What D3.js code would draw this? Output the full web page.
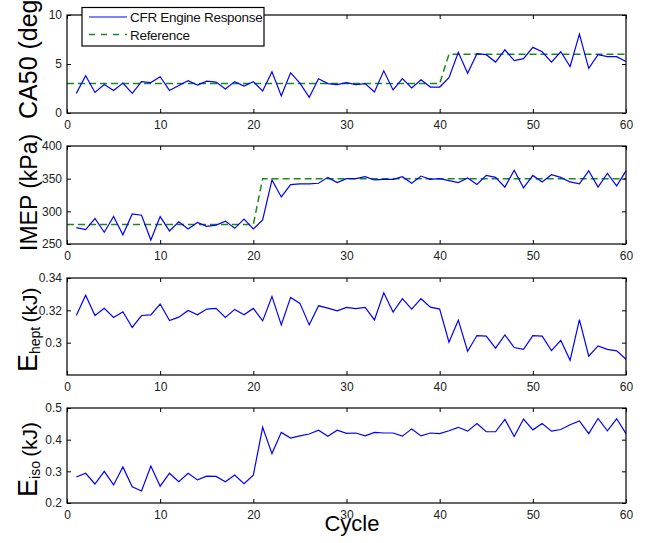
<!DOCTYPE html>
<html>
<head>
<meta charset="utf-8">
<script src="https://cdn.jsdelivr.net/npm/d3@7"></script>
<style>
  html, body { margin: 0; padding: 0; background: #fff; }
  svg { display: block; font-family: "Liberation Sans", Arial, Helvetica, sans-serif; }
</style>
</head>
<body>
<svg id="chart" width="652" height="543"></svg>
<script>
// Cycle-by-cycle engine data (cycles 1..60)
const cycles = d3.range(1, 61);

const ca50 = [2.0,3.8,2.1,2.9,2.3,3.05,2.0,3.2,3.1,3.7,
              2.3,2.8,3.3,2.85,3.25,3.15,2.45,3.2,2.75,3.2,
              2.25,4.2,1.75,4.1,3.05,1.6,3.5,3.0,2.9,3.1,
              2.9,3.0,2.15,4.3,2.35,3.5,2.55,3.4,2.65,2.65,
              3.6,6.2,4.05,6.05,5.95,5.2,6.45,5.35,5.55,6.7,
              6.25,5.2,6.25,4.75,8.05,4.55,5.95,5.75,5.75,5.25];

const imep = [275,272,289,268,292,264,296,294,256,292,
              270,284,273,283,277,279,285,274,288,273,
              287,348,322,341,342,342,343,352,344,350,
              350,353,348,349,349,353,343,354,349,350,
              347,344,351,341,355,352,337,363,336,355,
              345,356,352,345,342,362,337,358,339,362];

const eHept = [0.3168,0.3294,0.3168,0.3212,0.3156,0.3191,0.3094,0.3168,0.3172,0.3239,
               0.3137,0.3158,0.3199,0.3172,0.3208,0.3212,0.3156,0.3206,0.3172,0.3212,
               0.3135,0.3286,0.3110,0.3280,0.3243,0.3110,0.3228,0.3214,0.3197,0.3218,
               0.3210,0.3218,0.3141,0.3309,0.3189,0.3272,0.3208,0.3272,0.3220,0.3208,
               0.3003,0.3139,0.2947,0.3044,0.3040,0.2966,0.3048,0.2970,0.2959,0.3044,
               0.3040,0.2951,0.3015,0.2891,0.3143,0.2916,0.2980,0.2959,0.2949,0.2897];

const eIso = [0.282,0.294,0.260,0.300,0.257,0.314,0.251,0.238,0.317,0.253,
              0.294,0.267,0.294,0.273,0.285,0.284,0.267,0.288,0.261,0.288,
              0.439,0.356,0.423,0.405,0.412,0.418,0.430,0.411,0.430,0.420,
              0.421,0.412,0.423,0.421,0.421,0.411,0.434,0.412,0.421,0.419,
              0.428,0.439,0.427,0.451,0.425,0.425,0.464,0.410,0.465,0.431,
              0.451,0.427,0.432,0.447,0.459,0.419,0.467,0.428,0.466,0.419];

// Reference set-point breakpoints
const refCa50Cycles = [0, 40, 41, 60];
const refCa50Values = [3, 3, 6, 6];
const refImepCycles = [0, 20, 21, 60];
const refImepValues = [280, 280, 350, 350];

// Axis ticks
const xTicks = [0, 10, 20, 30, 40, 50, 60];
const ca50Ticks = [0, 5, 10];
const imepTicks = [250, 300, 350, 400];
const eHeptTicks = [0.30, 0.32, 0.34];
const eIsoTicks = [0.2, 0.3, 0.4, 0.5];

const legendLabels = ["CFR Engine Response", "Reference"];

const BLUE = "#0000ff";
const GREEN = "#1a8a1a";

const svg = d3.select("#chart");
svg.append("rect").attr("width", 652).attr("height", 543).attr("fill", "#fff");

const left = 67, right = 626;
const x = d3.scaleLinear().domain([0, 60]).range([left, right]);

function panel(cfg) {
  const y = d3.scaleLinear().domain(cfg.domain).range([cfg.bottom, cfg.top]);
  const g = svg.append("g");

  const line = d3.line().x(d => x(d[0])).y(d => y(d[1]));

  if (cfg.refX) {
    g.append("path")
      .datum(d3.zip(cfg.refX, cfg.refY))
      .attr("d", line)
      .attr("fill", "none")
      .attr("stroke", GREEN)
      .attr("stroke-width", 1.5)
      .attr("stroke-dasharray", "7,4");
  }
  g.append("path")
    .datum(d3.zip(cycles, cfg.values))
    .attr("d", line)
    .attr("fill", "none")
    .attr("stroke", BLUE)
    .attr("stroke-width", 1.2)
    .attr("stroke-linejoin", "miter");

  const style = a => {
    a.select(".domain").remove();
    a.selectAll("line").attr("stroke", "#000");
    a.selectAll("text").attr("font-size", 12).attr("fill", "#222").attr("font-family", "Liberation Sans, Arial, sans-serif");
  };

  g.append("g").attr("transform", `translate(0,${cfg.bottom})`)
    .call(d3.axisBottom(x).tickValues(xTicks).tickSizeInner(-4).tickSizeOuter(0).tickPadding(7.5))
    .call(style);
  g.append("g").attr("transform", `translate(0,${cfg.top})`)
    .call(d3.axisTop(x).tickValues(xTicks).tickSizeInner(-4).tickSizeOuter(0).tickFormat(""))
    .call(style);
  g.append("g").attr("transform", `translate(${left},0)`)
    .call(d3.axisLeft(y).tickValues(cfg.ticks).tickSizeInner(-4).tickSizeOuter(0).tickPadding(5).tickFormat(cfg.fmt))
    .call(style);
  g.append("g").attr("transform", `translate(${right},0)`)
    .call(d3.axisRight(y).tickValues(cfg.ticks).tickSizeInner(-4).tickSizeOuter(0).tickFormat(""))
    .call(style);

  g.append("rect")
    .attr("x", left).attr("y", cfg.top)
    .attr("width", right - left).attr("height", cfg.bottom - cfg.top)
    .attr("fill", "none").attr("stroke", "#000").attr("stroke-width", 1.2);

  // y-axis title, rotated to read bottom-to-top
  const t = svg.append("text")
    .attr("transform", `translate(${cfg.labelX},${cfg.labelY}) rotate(-90)`)
    .attr("text-anchor", "start")
    .attr("fill", "#000");
  cfg.label(t);
  return { g, y };
}

const plain = d3.format("");

const p1 = panel({
  top: 15, bottom: 113, domain: [0, 10], ticks: ca50Ticks, fmt: plain,
  values: ca50, refX: refCa50Cycles, refY: refCa50Values,
  labelX: 37, labelY: 119,
  label: t => t.attr("font-size", 25).text("CA50 (deg)")
});

panel({
  top: 146, bottom: 244, domain: [250, 400], ticks: imepTicks, fmt: plain,
  values: imep, refX: refImepCycles, refY: refImepValues,
  labelX: 37, labelY: 251,
  label: t => t.attr("font-size", 23).text("IMEP (kPa)")
});

function energyLabel(sub) {
  return t => {
    t.append("tspan").attr("font-size", 27).text("E");
    t.append("tspan").attr("font-size", 14).attr("dy", 3).text(sub);
    t.append("tspan").attr("font-size", 21).attr("dy", -3).text("\u2009(kJ)");
  };
}

panel({
  top: 278, bottom: 375, domain: [0.28, 0.34], ticks: eHeptTicks, fmt: d3.format(""),
  values: eHept,
  labelX: 37, labelY: 372,
  label: energyLabel("hept")
});

panel({
  top: 408, bottom: 503, domain: [0.2, 0.5], ticks: eIsoTicks, fmt: d3.format(""),
  values: eIso,
  labelX: 37, labelY: 497,
  label: energyLabel("iso")
});

// x-axis title
svg.append("text")
  .attr("x", 352).attr("y", 531)
  .attr("text-anchor", "middle")
  .attr("font-size", 22)
  .attr("fill", "#000")
  .text("Cycle");

// Legend
const lg = svg.append("g");
lg.append("rect")
  .attr("x", 82).attr("y", 7.5).attr("width", 182).attr("height", 38.5)
  .attr("fill", "#fff").attr("stroke", "#000").attr("stroke-width", 1.2);
const rows = [
  { label: legendLabels[0], color: BLUE, dash: null, w: 1.2, y: 17 },
  { label: legendLabels[1], color: GREEN, dash: "6,6", w: 1.5, y: 34.5 }
];
rows.forEach(r => {
  lg.append("line")
    .attr("x1", 89).attr("x2", 127).attr("y1", r.y).attr("y2", r.y)
    .attr("stroke", r.color).attr("stroke-width", r.w)
    .attr("stroke-dasharray", r.dash);
  lg.append("text")
    .attr("x", 130).attr("y", r.y + 5)
    .attr("font-size", 13.5)
    .attr("letter-spacing", -0.3)
    .attr("fill", "#111")
    .text(r.label);
});
</script>
</body>
</html>
